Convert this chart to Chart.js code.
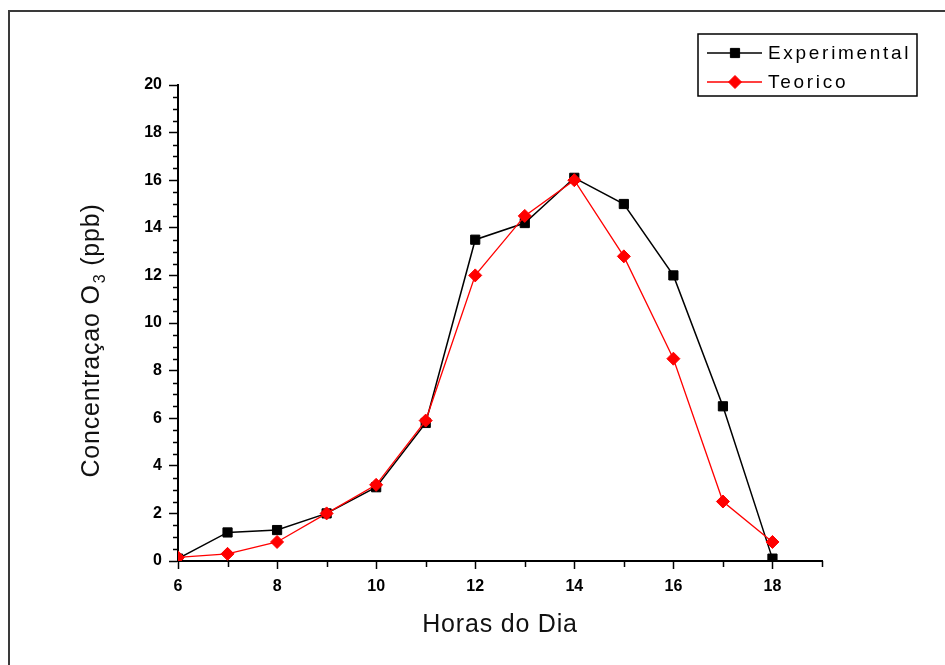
<!DOCTYPE html>
<html>
<head>
<meta charset="utf-8">
<title>Concentração O3</title>
<script src="https://cdn.jsdelivr.net/npm/chart.js@4.4.1/dist/chart.umd.min.js"></script>
<style>
  html, body { margin: 0; padding: 0; background: #fff; }
  #wrap { width: 945px; height: 665px; position: relative; }
</style>
</head>
<body>
<div id="wrap"><canvas id="ozone-chart" width="945" height="665"></canvas></div>
<script>
const hours = [6, 7, 8, 9, 10, 11, 12, 13, 14, 15, 16, 17, 18];
const experimental = [0.1, 1.2, 1.3, 2.0, 3.1, 5.8, 13.5, 14.2, 16.1, 15.0, 12.0, 6.5, 0.1];
const teorico = [0.15, 0.3, 0.8, 2.0, 3.2, 5.9, 12.0, 14.5, 16.0, 12.8, 8.5, 2.5, 0.8];
const seriesLabels = ['Experimental', 'Teorico'];
const xTitle = 'Horas do Dia';
const yTitle = ['Concentraçao O', '3', ' (ppb)'];

const FONT = "'Liberation Sans', Arial, sans-serif";

const toPoints = (values) => hours.map((h, i) => ({ x: h, y: values[i] }));

// white page with the outer frame line
const framePlugin = {
  id: 'frame',
  beforeDraw(chart) {
    const ctx = chart.ctx;
    ctx.save();
    ctx.fillStyle = '#fff';
    ctx.fillRect(0, 0, chart.width, chart.height);
    ctx.strokeStyle = '#3a3a3a';
    ctx.lineWidth = 2;
    ctx.strokeRect(9, 11, chart.width + 20, chart.height + 20);
    ctx.restore();
  }
};

// minor ticks (every 0.5 on y, odd hours on x)
const minorTicks = {
  id: 'minorTicks',
  afterDraw(chart) {
    const { ctx, scales: { x, y } } = chart;
    ctx.save();
    ctx.strokeStyle = '#000';
    ctx.lineWidth = 1.5;
    ctx.beginPath();
    for (let v = 0.5; v < 20; v += 0.5) {
      if (v % 2 === 0) continue;
      const py = Math.round(y.getPixelForValue(v)) + 0.5;
      ctx.moveTo(x.left - 5, py);
      ctx.lineTo(x.left, py);
    }
    for (let h = 7; h <= 19; h += 2) {
      const px = Math.round(x.getPixelForValue(h)) + 0.5;
      ctx.moveTo(px, y.bottom);
      ctx.lineTo(px, y.bottom + 6);
    }
    ctx.stroke();
    ctx.restore();
  }
};

// axis titles, the y one with a subscript
const axisTitles = {
  id: 'axisTitles',
  afterDraw(chart) {
    const { ctx, chartArea } = chart;
    ctx.save();
    ctx.fillStyle = '#111';
    ctx.font = `25px ${FONT}`;
    ctx.letterSpacing = '0.8px';
    ctx.textAlign = 'center';
    ctx.textBaseline = 'middle';
    ctx.fillText(xTitle, (chartArea.left + chartArea.right) / 2, 625);

    ctx.translate(92, 341);
    ctx.rotate(-Math.PI / 2);
    ctx.textAlign = 'left';
    ctx.font = `25px ${FONT}`;
    const w0 = ctx.measureText(yTitle[0]).width;
    ctx.font = `16px ${FONT}`;
    const w1 = ctx.measureText(yTitle[1]).width;
    ctx.font = `25px ${FONT}`;
    const w2 = ctx.measureText(yTitle[2]).width;
    let cx = -(w0 + w1 + w2) / 2;
    ctx.fillText(yTitle[0], cx, 0);
    cx += w0;
    ctx.font = `16px ${FONT}`;
    ctx.fillText(yTitle[1], cx + 1, 9);
    cx += w1 + 1;
    ctx.font = `25px ${FONT}`;
    ctx.fillText(yTitle[2], cx, 0);
    ctx.restore();
  }
};

// boxed legend in the upper right corner
const boxLegend = {
  id: 'boxLegend',
  afterDraw(chart) {
    const ctx = chart.ctx;
    const box = { left: 698, top: 34, right: 917, bottom: 96 };
    ctx.save();
    ctx.strokeStyle = '#000';
    ctx.lineWidth = 1.5;
    ctx.strokeRect(box.left, box.top, box.right - box.left, box.bottom - box.top);
    chart.data.datasets.forEach((ds, i) => {
      const yy = 53 + i * 29;
      ctx.strokeStyle = ds.borderColor;
      ctx.lineWidth = ds.borderWidth;
      ctx.beginPath();
      ctx.moveTo(707, yy);
      ctx.lineTo(762, yy);
      ctx.stroke();
      ctx.fillStyle = ds.pointBackgroundColor;
      ctx.strokeStyle = ds.pointBorderColor;
      ctx.lineWidth = 1;
      Chart.helpers.drawPoint(ctx, { pointStyle: ds.pointStyle, radius: ds.pointRadius, rotation: 0, borderWidth: 1 }, 735, yy);
      ctx.fillStyle = '#000';
      ctx.font = `19px ${FONT}`;
      ctx.letterSpacing = '2.7px';
      ctx.textAlign = 'left';
      ctx.textBaseline = 'middle';
      ctx.fillText(ds.label, 768, yy + 1);
    });
    ctx.restore();
  }
};

const ctx = document.getElementById('ozone-chart').getContext('2d');
new Chart(ctx, {
  type: 'line',
  data: {
    datasets: [{
      label: seriesLabels[0],
      data: toPoints(experimental),
      borderColor: '#000',
      borderWidth: 1.5,
      pointStyle: 'rect',
      pointRadius: 6.5,
      pointBackgroundColor: '#000',
      pointBorderColor: '#000',
      pointBorderWidth: 1,
      tension: 0,
      order: 1
    }, {
      label: seriesLabels[1],
      data: toPoints(teorico),
      borderColor: '#ff0000',
      borderWidth: 1.3,
      pointStyle: 'rectRot',
      pointRadius: 6.5,
      pointBackgroundColor: '#ff0000',
      pointBorderColor: '#ff0000',
      pointBorderWidth: 1,
      tension: 0,
      order: 0
    }]
  },
  options: {
    responsive: false,
    animation: false,
    events: [],
    layout: { padding: { left: 0, top: 85, right: 123, bottom: 0 } },
    plugins: {
      legend: { display: false },
      tooltip: { enabled: false }
    },
    scales: {
      x: {
        type: 'linear',
        min: 6,
        max: 19,
        afterFit: (scale) => { scale.height = 104; },
        border: { display: true, color: '#000', width: 2 },
        grid: { drawOnChartArea: false, drawTicks: true, tickLength: 8, tickWidth: 1.5, tickColor: '#000' },
        ticks: {
          stepSize: 2,
          includeBounds: false,
          padding: 8,
          color: '#000',
          font: { family: FONT, size: 16, weight: 'bold' },
          maxRotation: 0
        }
      },
      y: {
        min: 0,
        max: 20,
        afterFit: (scale) => { scale.width = 178; },
        border: { display: true, color: '#000', width: 2 },
        grid: { drawOnChartArea: false, drawTicks: true, tickLength: 9, tickWidth: 1.5, tickColor: '#000' },
        ticks: {
          stepSize: 2,
          padding: 7,
          color: '#000',
          font: { family: FONT, size: 16, weight: 'bold' }
        }
      }
    }
  },
  plugins: [framePlugin, minorTicks, axisTitles, boxLegend]
});
</script>
</body>
</html>
